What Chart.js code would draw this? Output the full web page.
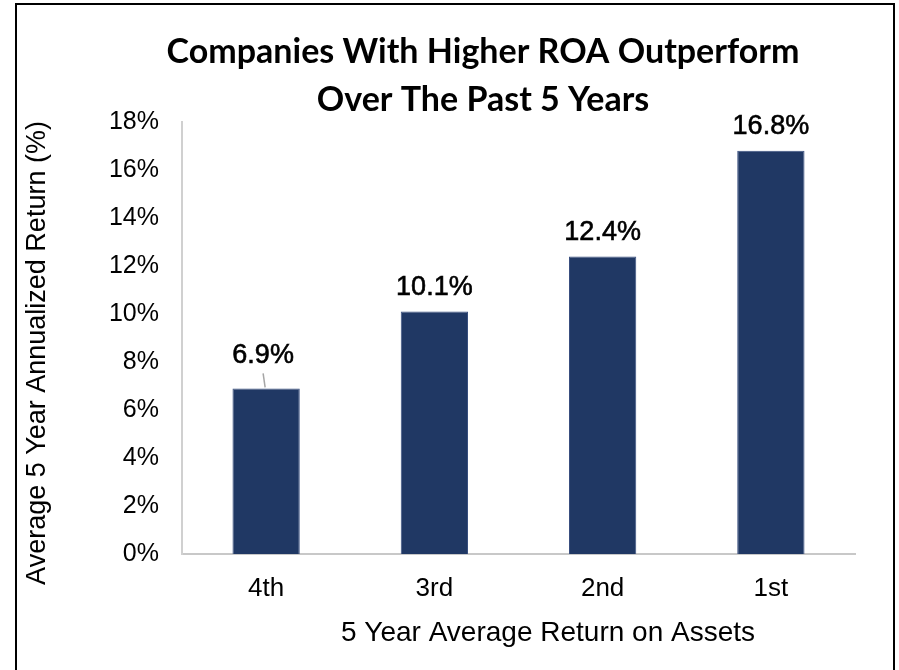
<!DOCTYPE html>
<html>
<head>
<meta charset="utf-8">
<script src="https://cdn.jsdelivr.net/npm/chart.js@4"></script>
<style>
  body { margin: 0; background: #fff; }
</style>
</head>
<body>
<canvas id="roaChart" width="899" height="670"></canvas>
<script>
// data
const quartiles = ["4th", "3rd", "2nd", "1st"];
const avgReturns = [6.9, 10.1, 12.4, 16.8];
const titleLines = ["Companies With Higher ROA Outperform", "Over The Past 5 Years"];
const xTitle = "5 Year Average Return on Assets";
const yTitle = "Average 5 Year Annualized Return (%)";

const barColor = '#203864';

const decorations = {
    id: 'decorations',
    beforeDraw(chart) {
        const { ctx } = chart;
        ctx.save();
        ctx.fillStyle = '#fff';
        ctx.fillRect(0, 0, chart.width, chart.height);
        ctx.strokeStyle = '#000';
        ctx.lineWidth = 2;
        ctx.strokeRect(16, 4, 878, 700);
        ctx.restore();
    },
    afterDatasetsDraw(chart) {
        const { ctx, chartArea } = chart;
        ctx.save();
        // chart title
        ctx.fillStyle = '#000';
        ctx.textAlign = 'center';
        ctx.textBaseline = 'middle';
        ctx.font = 'bold 34px Lato';
        ctx.fillText(titleLines[0], 483, 52);
        ctx.fillText(titleLines[1], 483, 100);

        // axis titles
        ctx.font = '28px "Liberation Sans", Arial';
        ctx.fillText(xTitle, 548, 633);
        ctx.font = '27px "Liberation Sans", Arial';
        ctx.save();
        ctx.translate(38, (chartArea.top + chartArea.bottom) / 2 + 15);
        ctx.rotate(-Math.PI / 2);
        ctx.fillText(yTitle, 0, 0);
        ctx.restore();

        // value labels
        const meta = chart.getDatasetMeta(0);
        ctx.font = '27px "Liberation Sans", Arial';
        ctx.strokeStyle = '#000';
        ctx.lineWidth = 0.6;
        meta.data.forEach((bar, i) => {
            const txt = avgReturns[i].toFixed(1) + '%';
            let lift = 24;
            if (i === 0) {
                lift = 33;
                ctx.save();
                ctx.strokeStyle = '#a6a6a6';
                ctx.lineWidth = 1.5;
                ctx.beginPath();
                ctx.moveTo(bar.x - 3, bar.y - 15);
                ctx.lineTo(bar.x - 1, bar.y - 1);
                ctx.stroke();
                ctx.restore();
            }
            const lx = i === 0 ? bar.x - 3 : bar.x;
            ctx.fillText(txt, lx, bar.y - lift);
            ctx.strokeText(txt, lx, bar.y - lift);
        });
        ctx.restore();
    }
};

new Chart(document.getElementById('roaChart'), {
    type: 'bar',
    data: {
        labels: quartiles,
        datasets: [{
            data: avgReturns,
            backgroundColor: barColor,
            borderColor: '#3a5080',
            borderWidth: 1,
            categoryPercentage: 1,
            barPercentage: 0.4
        }]
    },
    options: {
        responsive: false,
        animation: false,
        layout: { padding: { top: 122, right: 44, left: 0, bottom: 0 } },
        plugins: {
            legend: { display: false },
            title: { display: false },
            tooltip: { enabled: false }
        },
        scales: {
            x: {
                grid: { display: false, drawTicks: false },
                border: { display: true, color: '#c8c8c8', width: 2 },
                ticks: {
                    color: '#000',
                    padding: 19,
                    font: { family: '"Liberation Sans", Arial', size: 26 }
                },
                afterFit(scale) { scale.height = 116; }
            },
            y: {
                min: 0,
                max: 18,
                grid: { display: false, drawTicks: false },
                border: { display: true, color: '#d0d0d0', width: 2 },
                ticks: {
                    stepSize: 2,
                    color: '#000',
                    padding: 23,
                    font: { family: '"Liberation Sans", Arial', size: 25 },
                    callback: v => v + '%'
                },
                afterFit(scale) { scale.width = 182; }
            }
        }
    },
    plugins: [decorations]
});
</script>
</body>
</html>
